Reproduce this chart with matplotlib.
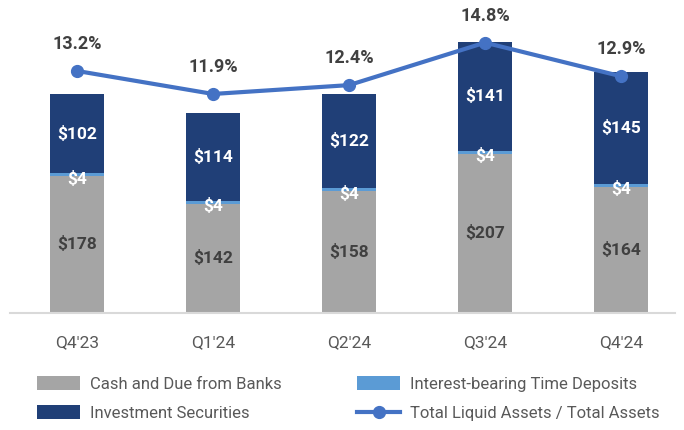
import matplotlib.pyplot as plt
import numpy as np

plt.rcParams['font.family'] = ['Roboto', 'DejaVu Sans']

quarters = ["Q4'23", "Q1'24", "Q2'24", "Q3'24", "Q4'24"]
cash = np.array([178, 142, 158, 207, 164])
deposits = np.array([4, 4, 4, 4, 4])
invest = np.array([102, 114, 122, 141, 145])
ratio = np.array([13.2, 11.9, 12.4, 14.8, 12.9])

gray = "#A5A5A5"
light_blue = "#5B9BD5"
navy = "#203F77"
line_blue = "#4472C4"
dark_text = "#404040"
tick_text = "#595959"

fig = plt.figure(figsize=(6.84, 4.30), dpi=100)
ax = fig.add_axes([10 / 684, 117 / 430, 665 / 684, 298 / 430])

x = np.arange(len(quarters))
w = 0.4
b1 = ax.bar(x, cash, w, color=gray, label="Cash and Due from Banks")
b2 = ax.bar(x, deposits, w, bottom=cash, color=light_blue, label="Interest-bearing Time Deposits")
b3 = ax.bar(x, invest, w, bottom=cash + deposits, color=navy, label="Investment Securities")

for i in x:
    ax.text(i, cash[i] / 2, f"${cash[i]}", ha="center", va="center",
            color=dark_text, fontsize=12.5, fontweight="bold")
    ax.annotate(f"${deposits[i]}", (i, cash[i] + deposits[i] / 2), xytext=(0, -3),
                textcoords="offset points", ha="center", va="center",
                color="white", fontsize=12.5, fontweight="bold")
    ax.text(i, cash[i] + deposits[i] + invest[i] / 2, f"${invest[i]}", ha="center",
            va="center", color="white", fontsize=12.5, fontweight="bold")

ax.set_xlim(-0.493, 4.397)
ax.set_ylim(0, 387)
ax.set_yticks([])
ax.set_xticks(x)
ax.set_xticklabels(quarters, fontsize=12.5, color=tick_text)
ax.tick_params(axis="x", length=0, pad=16)
for s in ["top", "left", "right"]:
    ax.spines[s].set_visible(False)
ax.spines["bottom"].set_color("#D9D9D9")
ax.spines["bottom"].set_linewidth(1.5)

ax2 = ax.twinx()
ln, = ax2.plot(x, ratio, color=line_blue, linewidth=3, marker="o", markersize=8.5,
               label="Total Liquid Assets / Total Assets")
ax2.set_ylim(-0.47, 16.36)
ax2.set_yticks([])
for s in ax2.spines.values():
    s.set_visible(False)
for i in x:
    ax2.annotate(f"{ratio[i]:.1f}%", (i, ratio[i]), xytext=(0, 19.5), textcoords="offset points",
                 ha="center", va="center", color=dark_text, fontsize=13, fontweight="bold")

fig.legend([b1, b3, b2, ln],
           ["Cash and Due from Banks", "Investment Securities",
            "Interest-bearing Time Deposits", "Total Liquid Assets / Total Assets"],
           ncol=2, loc="lower left", bbox_to_anchor=(22 / 684, -6 / 430), frameon=False,
           fontsize=12, labelcolor=tick_text, handlelength=2.6, handleheight=0.9,
           columnspacing=4.5, labelspacing=0.8, handletextpad=0.6)

fig.savefig("out.png", dpi=100)
